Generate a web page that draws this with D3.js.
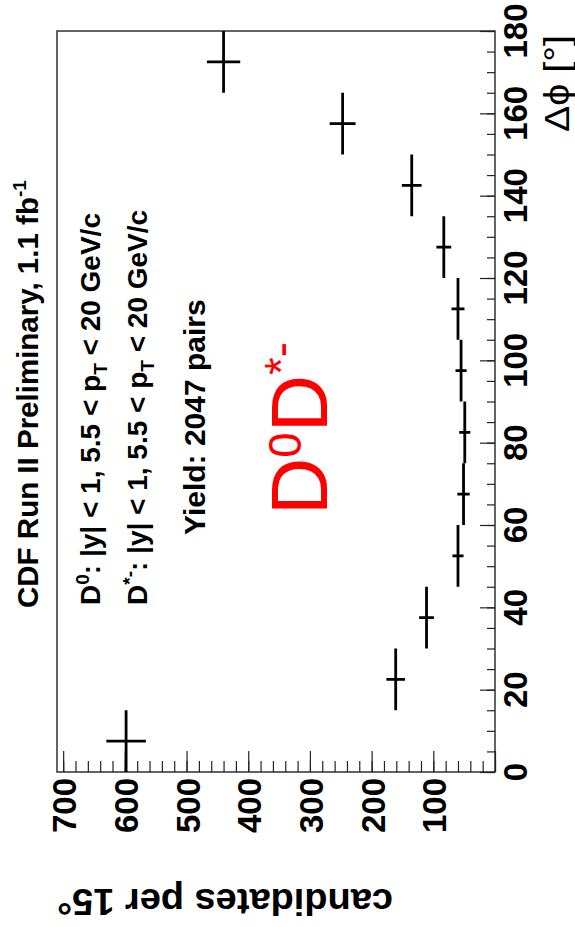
<!DOCTYPE html>
<html>
<head>
<meta charset="utf-8">
<script src="https://cdn.jsdelivr.net/npm/d3@7"></script>
<style>
  body { margin: 0; background: #fff; }
  text { font-family: "Liberation Sans", Arial, Helvetica, sans-serif; }
</style>
</head>
<body>
<div id="chart"></div>
<script>
// bin centres in delta phi (degrees), 15 degree bins
const dphiBins = [7.5, 22.5, 37.5, 52.5, 67.5, 82.5, 97.5, 112.5, 127.5, 142.5, 157.5, 172.5];
const binHalfWidth = 7.5;
// candidates per 15 degrees and their errors
const counts = [598, 161, 111, 60, 51, 49, 55, 60, 83, 135, 247, 440];
const countErrors = [32, 15, 12, 9, 10, 9, 9, 10.5, 12, 16, 21, 27];
// tick labels
const countTicks = [100, 200, 300, 400, 500, 600, 700];
const dphiTicks = [0, 20, 40, 60, 80, 100, 120, 140, 160, 180];

const width = 575, height = 927;
// plot frame (chart is drawn turned a quarter turn)
const frame = { left: 57, right: 495, top: 31, bottom: 772 };

const svg = d3.select('#chart')
  .append('svg')
  .attr('width', width)
  .attr('height', height);

// counts run right to left along the bottom
const x = d3.scaleLinear()
  .domain([0, 710])
  .range([frame.right, frame.left]);

// delta phi runs bottom to top on the right
const y = d3.scaleLinear()
  .domain([0, 180])
  .range([frame.bottom, frame.top]);

// frame
svg.append('rect')
  .attr('x', frame.left)
  .attr('y', frame.top)
  .attr('width', frame.right - frame.left)
  .attr('height', frame.bottom - frame.top)
  .attr('fill', 'none')
  .attr('stroke', '#222')
  .attr('stroke-width', 1.4);

// count axis ticks (pointing into the plot)
const countMinor = d3.range(0, 701, 20);
svg.append('g')
  .attr('transform', `translate(0,${frame.bottom})`)
  .call(d3.axisBottom(x).tickValues(countMinor).tickSize(-11).tickSizeOuter(0).tickFormat(''))
  .call(g => g.select('.domain').remove());
svg.append('g')
  .attr('transform', `translate(0,${frame.bottom})`)
  .call(d3.axisBottom(x).tickValues(d3.range(0, 701, 100)).tickSize(-21).tickSizeOuter(0).tickFormat(''))
  .call(g => g.select('.domain').remove());

// delta phi axis ticks
svg.append('g')
  .attr('transform', `translate(${frame.right},0)`)
  .call(d3.axisRight(y).tickValues(d3.range(0, 181, 5)).tickSize(-8).tickSizeOuter(0).tickFormat(''))
  .call(g => g.select('.domain').remove());
svg.append('g')
  .attr('transform', `translate(${frame.right},0)`)
  .call(d3.axisRight(y).tickValues(dphiTicks).tickSize(-15).tickSizeOuter(0).tickFormat(''))
  .call(g => g.select('.domain').remove());

svg.selectAll('.tick line').attr('stroke', '#222').attr('stroke-width', 1.2);

// tick labels
svg.selectAll('.count-label')
  .data(countTicks)
  .enter()
  .append('text')
  .attr('transform', d => `translate(${x(d) + 13},778) rotate(-90)`)
  .attr('text-anchor', 'end')
  .attr('font-size', 33)
  .attr('font-weight', 'bold')
  .text(d => d);

svg.selectAll('.dphi-label')
  .data(dphiTicks)
  .enter()
  .append('text')
  .attr('transform', d => `translate(527,${y(d)}) rotate(-90)`)
  .attr('text-anchor', 'middle')
  .attr('font-size', 33)
  .attr('font-weight', 'bold')
  .text(d => d);

// axis titles
svg.append('text')
  .attr('transform', 'translate(569,35) rotate(-90)')
  .attr('text-anchor', 'end')
  .attr('font-size', 35)
  .attr('textLength', 97)
  .attr('lengthAdjust', 'spacingAndGlyphs')
  .text('Δϕ [°]');

svg.append('text')
  .attr('transform', 'translate(57,889) rotate(180)')
  .attr('text-anchor', 'end')
  .attr('font-size', 37)
  .attr('font-weight', 'bold')
  .attr('textLength', 336)
  .attr('lengthAdjust', 'spacingAndGlyphs')
  .text('candidates per 15°');

// data points with error bars
const points = svg.append('g')
  .selectAll('g')
  .data(dphiBins.map((d, i) => ({ dphi: d, n: counts[i], err: countErrors[i] })))
  .enter()
  .append('g');

points.append('line')
  .attr('x1', d => x(d.n))
  .attr('x2', d => x(d.n))
  .attr('y1', d => y(d.dphi - binHalfWidth))
  .attr('y2', d => y(d.dphi + binHalfWidth))
  .attr('stroke', '#000')
  .attr('stroke-width', 2.8);

points.append('line')
  .attr('x1', d => x(d.n - d.err))
  .attr('x2', d => x(d.n + d.err))
  .attr('y1', d => y(d.dphi))
  .attr('y2', d => y(d.dphi))
  .attr('stroke', '#000')
  .attr('stroke-width', 2.8);

// annotation texts
const t1 = svg.append('text')
  .attr('transform', 'translate(38,608) rotate(-90)')
  .attr('font-size', 29.5)
  .attr('font-weight', 'bold');
t1.append('tspan').text('CDF Run II Preliminary, 1.1 fb');
t1.append('tspan').attr('font-size', 19).attr('dy', -12).text('-1');

function cutLine(xb, head, sup) {
  const t = svg.append('text')
    .attr('transform', `translate(${xb},605) rotate(-90)`)
    .attr('font-size', 28)
    .attr('font-weight', 'bold');
  t.append('tspan').text(head);
  t.append('tspan').attr('font-size', 19).attr('dy', -11).text(sup);
  t.append('tspan').attr('dy', 11).text(':  |y| < 1, 5.5 < p');
  t.append('tspan').attr('font-size', 19).attr('dy', 7).text('T');
  t.append('tspan').attr('dy', -7).text(' < 20 GeV/c');
}
cutLine(100, 'D', '0');
cutLine(147, 'D', '*-');

svg.append('text')
  .attr('transform', 'translate(205,535) rotate(-90)')
  .attr('font-size', 30)
  .attr('font-weight', 'bold')
  .text('Yield: 2047 pairs');

// red hand-written label
const red = svg.append('text')
  .attr('transform', 'translate(327,515) rotate(-90)')
  .attr('font-size', 80)
  .attr('fill', '#ff0000')
  .attr('textLength', 173)
  .attr('lengthAdjust', 'spacingAndGlyphs');
red.append('tspan').text('D');
red.append('tspan').attr('font-size', 46).attr('dy', -26).text('0');
red.append('tspan').attr('dy', 26).text('D');
red.append('tspan').attr('font-size', 46).attr('dy', -30).text('*-');
</script>
</body>
</html>
